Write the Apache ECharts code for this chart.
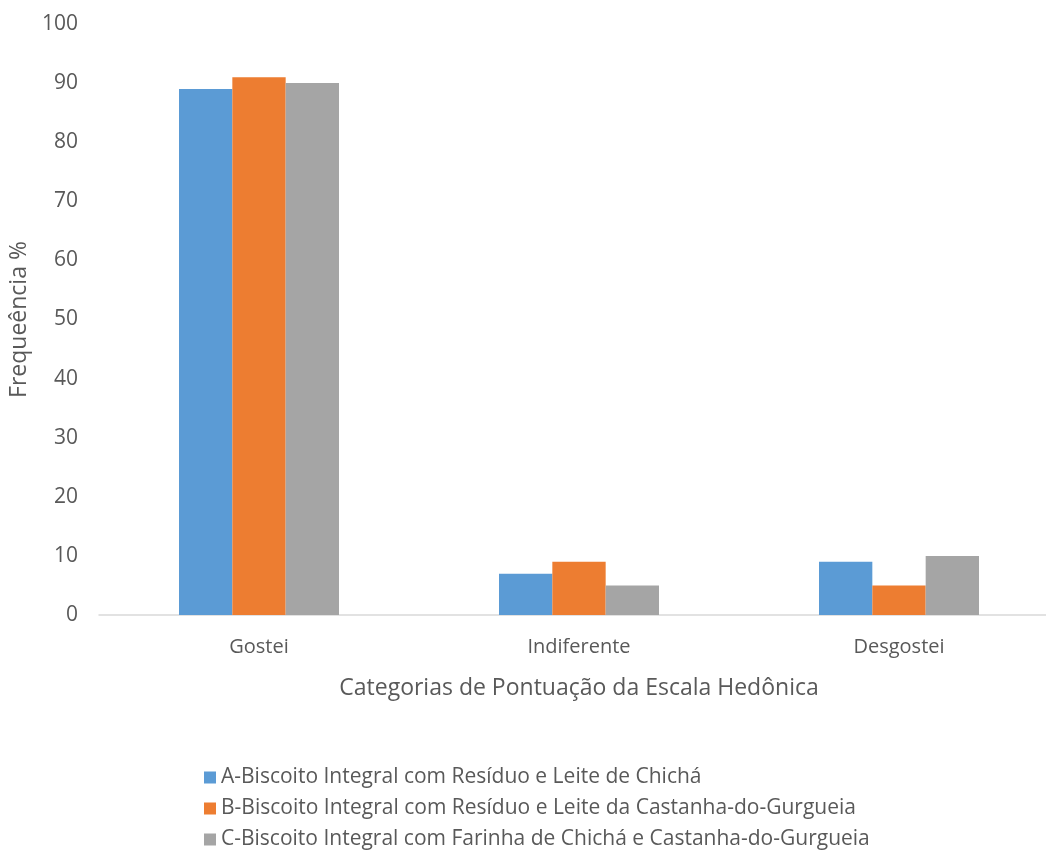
<!DOCTYPE html>
<html>
<head>
<meta charset="utf-8">
<script src="https://cdn.jsdelivr.net/npm/echarts@6/dist/echarts.min.js"></script>
<style>
  html, body { margin: 0; padding: 0; background: #fff; }
  #chart { width: 1046px; height: 853px; }
</style>
</head>
<body>
<div id="chart"></div>
<script>
// Hedonic scale response frequencies (%) per biscuit formulation
const categories = ['Gostei', 'Indiferente', 'Desgostei'];
const seriesNames = [
  'A-Biscoito Integral com Resíduo e Leite de Chichá',
  'B-Biscoito Integral com Resíduo e Leite da Castanha-do-Gurgueia',
  'C-Biscoito Integral com Farinha de Chichá e Castanha-do-Gurgueia'
];
const valuesA = [89, 7, 9];
const valuesB = [91, 9, 5];
const valuesC = [90, 5, 10];
const colors = ['#5b9bd5', '#ed7d31', '#a5a5a5'];

const FONT = '"Open Sans", "Noto Sans", sans-serif';
const TEXT = '#595959';

const chart = echarts.init(document.getElementById('chart'));
const dataSets = [valuesA, valuesB, valuesC];

chart.setOption({
  animation: false,
  textStyle: { fontFamily: FONT },
  grid: {
    left: 99, top: 24, right: -13, height: 591,
    containLabel: false, outerBoundsMode: 'none'
  },
  legend: {
    orient: 'vertical',
    left: 199,
    top: 762,
    height: 200,
    itemWidth: 12,
    itemHeight: 12,
    itemGap: 10,
    icon: 'rect',
    textStyle: { color: TEXT, fontSize: 21, fontFamily: FONT },
    data: seriesNames
  },
  xAxis: {
    type: 'category',
    data: categories,
    name: 'Categorias de Pontuação da Escala Hedônica',
    nameLocation: 'middle',
    nameGap: 62,
    nameTextStyle: { color: TEXT, fontSize: 23, fontFamily: FONT },
    axisLine: { lineStyle: { color: '#d9d9d9', width: 1.5 } },
    axisTick: { show: false },
    axisLabel: { color: TEXT, fontSize: 20, margin: 22, fontFamily: FONT }
  },
  yAxis: {
    type: 'value',
    min: 0,
    max: 100,
    interval: 10,
    name: 'Frequeência %',
    nameLocation: 'middle',
    nameGap: 65,
    nameRotate: 90,
    nameTextStyle: { color: TEXT, fontSize: 23, fontFamily: FONT },
    axisLine: { show: false },
    axisTick: { show: false },
    splitLine: { show: false },
    axisLabel: { color: TEXT, fontSize: 21, margin: 21, fontFamily: FONT }
  },
  series: seriesNames.map((name, i) => ({
    name,
    type: 'bar',
    data: dataSets[i],
    barGap: '0%',
    barCategoryGap: '50%',
    itemStyle: { color: colors[i] }
  }))
});
</script>
</body>
</html>
